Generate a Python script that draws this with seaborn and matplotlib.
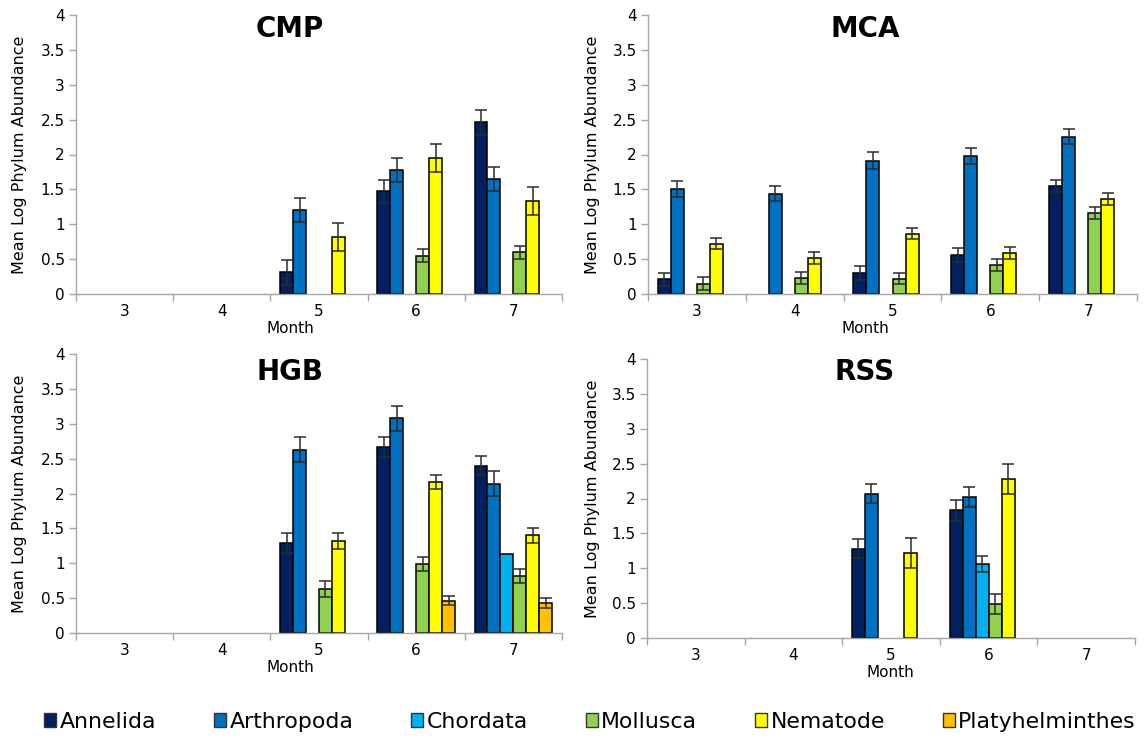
import numpy as np
import pandas as pd
import matplotlib
matplotlib.use("Agg")
import matplotlib.pyplot as plt
from matplotlib.patches import Patch
from matplotlib.ticker import FuncFormatter
import seaborn as sns

months = [3, 4, 5, 6, 7]
phyla = ["Annelida", "Arthropoda", "Chordata", "Mollusca", "Nematode", "Platyhelminthes"]
colors = ["#002060", "#0070C0", "#00B0F0", "#92D050", "#FFFF00", "#FFC000"]
nan = np.nan
none = [nan] * 5

# rows follow `phyla`, columns follow `months`; nan = not sampled / absent
cmp_mean = [
    [nan, nan, 0.31, 1.47, 2.46],
    [nan, nan, 1.20, 1.78, 1.65],
    none,
    [nan, nan, nan, 0.55, 0.60],
    [nan, nan, 0.82, 1.95, 1.33],
    none,
]
cmp_err = [
    [nan, nan, 0.18, 0.17, 0.18],
    [nan, nan, 0.17, 0.17, 0.17],
    none,
    [nan, nan, nan, 0.095, 0.095],
    [nan, nan, 0.20, 0.20, 0.20],
    none,
]

mca_mean = [
    [0.21, nan, 0.30, 0.56, 1.55],
    [1.50, 1.44, 1.91, 1.98, 2.255],
    none,
    [0.15, 0.23, 0.22, 0.415, 1.16],
    [0.72, 0.51, 0.865, 0.59, 1.36],
    none,
]
mca_err = [
    [0.09, nan, 0.10, 0.10, 0.09],
    [0.115, 0.11, 0.12, 0.11, 0.11],
    none,
    [0.09, 0.085, 0.08, 0.09, 0.09],
    [0.08, 0.085, 0.08, 0.09, 0.09],
    none,
]

hgb_mean = [
    [nan, nan, 1.29, 2.67, 2.40],
    [nan, nan, 2.63, 3.08, 2.14],
    [nan, nan, nan, nan, 1.13],
    [nan, nan, 0.63, 0.99, 0.82],
    [nan, nan, 1.32, 2.16, 1.40],
    [nan, nan, nan, 0.46, 0.43],
]
hgb_err = [
    [nan, nan, 0.14, 0.14, 0.14],
    [nan, nan, 0.18, 0.18, 0.18],
    none,
    [nan, nan, 0.11, 0.10, 0.10],
    [nan, nan, 0.11, 0.10, 0.11],
    [nan, nan, nan, 0.065, 0.07],
]

rss_mean = [
    [nan, nan, 1.28, 1.83, nan],
    [nan, nan, 2.07, 2.02, nan],
    [nan, nan, nan, 1.06, nan],
    [nan, nan, nan, 0.49, nan],
    [nan, nan, 1.22, 2.28, nan],
    none,
]
rss_err = [
    [nan, nan, 0.14, 0.15, nan],
    [nan, nan, 0.14, 0.14, nan],
    [nan, nan, nan, 0.12, nan],
    [nan, nan, nan, 0.14, nan],
    [nan, nan, 0.21, 0.21, nan],
    none,
]

sites = ["CMP", "MCA", "HGB", "RSS"]
site_means = [cmp_mean, mca_mean, hgb_mean, rss_mean]
site_errs = [cmp_err, mca_err, hgb_err, rss_err]

sns.set_style("white")
plt.rcParams["font.family"] = ["DejaVu Sans"]
plt.rcParams["text.color"] = "black"
plt.rcParams["axes.labelcolor"] = "black"

W, H = 1144, 739
fig = plt.figure(figsize=(W / 100, H / 100), dpi=100)

# panel boxes in pixels: left, right, top, bottom
boxes = [(76, 562, 15, 294), (648, 1137, 15, 294),
         (76, 562, 354, 633), (647, 1135, 359, 638)]
title_xy = [(290, 29), (865, 29), (290, 372), (865, 372)]
month_label_x = [290, 865, 290, 890]
ylabel_x = [27, 600, 27, 600]

axis_grey = "#A6A6A6"
n_hue = len(phyla)
group_w = 0.8

for site, means, errs, box, txy, mx, yx in zip(
        sites, site_means, site_errs, boxes, title_xy, month_label_x, ylabel_x):
    l, r, t, b = box
    ax = fig.add_axes([l / W, (H - b) / H, (r - l) / W, (b - t) / H])

    rows = []
    for k, ph in enumerate(phyla):
        for j, m in enumerate(months):
            v = means[k][j]
            if not np.isnan(v):
                rows.append({"Month": m, "Phylum": ph, "Mean": v})
    df = pd.DataFrame(rows)

    sns.barplot(data=df, x="Month", y="Mean", hue="Phylum", order=months,
                hue_order=phyla, palette=dict(zip(phyla, colors)),
                saturation=1, errorbar=None, width=group_w, dodge=True,
                edgecolor="black", linewidth=1.1, legend=False, ax=ax)

    # standard-error whiskers on top of each bar
    step = group_w / n_hue
    for p in list(ax.patches):
        xc = p.get_x() + p.get_width() / 2
        h = p.get_height()
        j = int(round(xc))
        k = int(round((xc - j + group_w / 2) / step - 0.5))
        e = errs[k][j]
        if not np.isnan(e):
            ax.errorbar(xc, h, yerr=e, fmt="none", ecolor="#2b2b2b",
                        elinewidth=1.1, capsize=4, capthick=1.1, zorder=5)

    ax.set_xlim(-0.5, len(months) - 0.5)
    ax.set_ylim(0, 4)
    ax.set_yticks(np.arange(0, 4.01, 0.5))
    ax.yaxis.set_major_formatter(FuncFormatter(lambda v, _: f"{v:g}"))
    ax.set_xticks(range(len(months)))
    ax.set_xticklabels([str(m) for m in months])
    ax.set_xticks(np.arange(-0.5, len(months)), minor=True)
    ax.tick_params(axis="x", which="major", length=0, pad=7, labelsize=11,
                   labelcolor="black")
    ax.tick_params(axis="x", which="minor", length=5, width=1,
                   color=axis_grey, direction="out", bottom=True)
    ax.tick_params(axis="y", length=5, width=1, color=axis_grey, left=True,
                   direction="out", pad=3, labelsize=11, labelcolor="black")

    for s in ("top", "right"):
        ax.spines[s].set_visible(False)
    for s in ("left", "bottom"):
        ax.spines[s].set_color(axis_grey)
        ax.spines[s].set_linewidth(1)

    ax.set_xlabel("Month", fontsize=11, color="black")
    ax.set_ylabel("Mean Log Phylum Abundance", fontsize=11.5, color="black")
    ax.xaxis.set_label_coords((mx - l) / (r - l), -(321 - 294) / 279)
    ax.yaxis.set_label_coords((yx - l) / (r - l), 0.5)
    ax.set_facecolor("white")

    fig.text(txy[0] / W, 1 - txy[1] / H, site, fontsize=20, color="black",
             fontweight="bold", ha="center", va="center")

handles = [Patch(facecolor=c, edgecolor="#333333", linewidth=1) for c in colors]
fig.legend(handles, phyla, loc="center", bbox_to_anchor=(590 / W, 1 - 722 / H),
           ncol=6, frameon=False, fontsize=15.8, handlelength=0.55,
           handleheight=0.6, handletextpad=0.15, columnspacing=2.64,
           borderpad=0, borderaxespad=0)

fig.savefig("out.png", dpi=100, facecolor="white")
